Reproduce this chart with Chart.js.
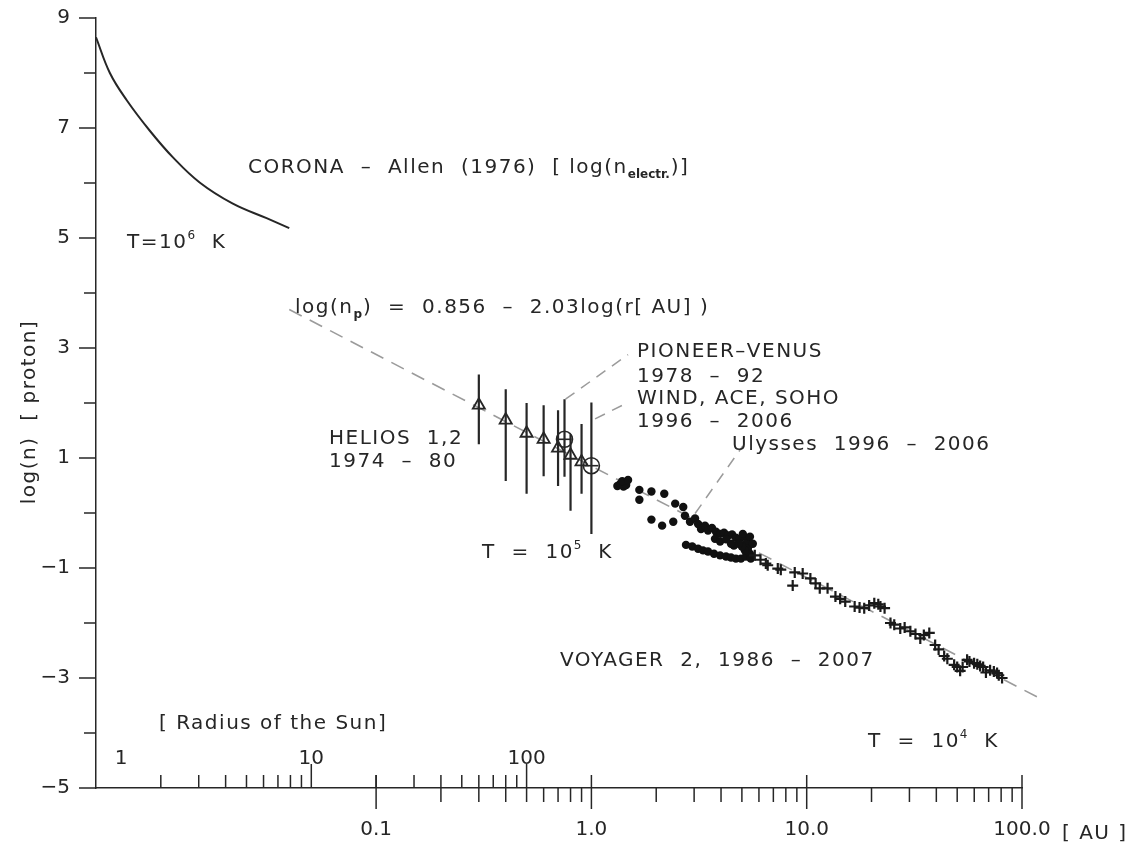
<!DOCTYPE html>
<html lang="en">
<head>
<meta charset="UTF-8">
<title>Solar wind proton density</title>
<script src="https://cdn.jsdelivr.net/npm/chart.js"></script>
<style>
  html, body { margin: 0; background: #fff; }
</style>
</head>
<body>
<canvas id="myChart" width="1144" height="852"></canvas>
<script>
// ---- data (x in AU, y = log n) ----
const coronaAU = [0.005, 0.0058, 0.00696, 0.00889, 0.01136, 0.01515, 0.0215, 0.031, 0.0395];
const coronaN  = [8.65, 8.00, 7.50, 6.95, 6.47, 6.01, 5.63, 5.36, 5.18];

const fitAU = [0.0395, 121];
const fitN  = [3.70, -3.37];

const helAU = [0.30, 0.40, 0.50, 0.60, 0.70, 0.80, 0.90];
const helN  = [1.96, 1.69, 1.45, 1.34, 1.18, 1.05, 0.93];
const helHi = [2.52, 2.25, 2.00, 1.96, 1.87, 1.43, 1.62];
const helLo = [1.25, 0.58, 0.35, 0.67, 0.49, 0.04, 0.35];

// Pioneer-Venus, then Wind/ACE/SOHO
const ringAU = [0.75, 1.0];
const ringN  = [1.34, 0.86];
const ringHi = [2.07, 2.01];
const ringLo = [0.66, -0.38];

const ulAU = [1.32,1.36,1.41,1.45,1.39,1.48,
  1.67,1.67,1.90,2.18,2.45,2.67,1.90,2.13,2.40,2.72,2.87,3.03,
  3.13,3.23,3.37,3.48,3.63,3.79,3.96,4.13,4.31,4.50,4.69,4.89,5.11,5.33,5.45,
  2.75,2.94,3.13,3.30,3.48,3.71,3.96,4.22,4.45,4.69,4.95,5.22,
  5.05,5.22,5.33,5.45,5.16,5.00,5.45,5.62,5.50,4.84,4.59,
  3.75,3.96,4.22,4.45];
const ulN = [0.49,0.53,0.48,0.51,0.58,0.60,
  0.42,0.24,0.39,0.35,0.17,0.11,-0.12,-0.23,-0.16,-0.05,-0.16,-0.10,
  -0.20,-0.29,-0.23,-0.32,-0.27,-0.34,-0.38,-0.36,-0.41,-0.39,-0.45,-0.47,-0.43,-0.48,-0.56,
  -0.58,-0.61,-0.65,-0.68,-0.70,-0.74,-0.77,-0.79,-0.81,-0.83,-0.83,-0.79,
  -0.38,-0.56,-0.65,-0.74,-0.68,-0.61,-0.43,-0.56,-0.83,-0.56,-0.59,
  -0.47,-0.52,-0.48,-0.56];

const voyAU = [5.74,6.10,6.46,6.59,7.34,7.58,8.61,8.80,9.58,10.4,
  11.0,11.5,12.5,13.6,14.3,15.1,16.7,17.6,18.5,19.5,
  20.6,21.5,22.0,23.0,24.5,25.5,27.2,28.5,30.3,32.0,
  33.7,35.0,37.1,39.5,41.0,43.5,45.0,48.4,50.0,51.6,
  53.0,55.6,57.0,59.9,62.0,63.9,66.0,68.0,71.1,74.0,
  76.6,78.0,80.8];
const voyN = [-0.77,-0.85,-0.92,-0.95,-1.01,-1.03,-1.32,-1.08,-1.10,-1.19,
  -1.28,-1.37,-1.37,-1.52,-1.56,-1.61,-1.70,-1.72,-1.73,-1.68,
  -1.64,-1.66,-1.70,-1.73,-2.00,-2.03,-2.10,-2.08,-2.15,-2.20,
  -2.28,-2.22,-2.18,-2.40,-2.48,-2.60,-2.65,-2.76,-2.80,-2.87,
  -2.80,-2.67,-2.70,-2.73,-2.75,-2.78,-2.80,-2.90,-2.86,-2.88,
  -2.91,-2.95,-3.00];

// leader lines: [from, to] pairs (AU, log n)
const leadAU = [[0.758, 1.48], [1.04, 1.48], [3.03, 5.05]];
const leadN  = [[2.07, 2.88], [1.71, 2.01], [-0.01, 1.22]];

// ticks
const auMajor = [0.1, 1, 10, 100];
const auMinor = [0.2,0.3,0.4,0.5,0.6,0.7,0.8,0.9, 2,3,4,5,6,7,8,9, 20,30,40,50,60,70,80,90];
const rsMajor = [10, 100];
const rsMinor = [2,3,4,5,6,7,8,9, 20,30,40,50,60,70,80,90];
const rsLabels = ['1', '10', '100'];
const yMajor = [-5, -3, -1, 1, 3, 5, 7, 9];
const yMinor = [-4, -2, 0, 2, 4, 6, 8];

// ---- helpers ----
const ink = '#262626';
const grey = '#9b9b9b';
const FONT = '"DejaVu Sans", sans-serif';

const pts = (xs, ys) => xs.map((x, i) => ({ x, y: ys[i] }));
function bars(xs, hi, lo) {
  const out = [];
  xs.forEach((x, i) => out.push({ x, y: hi[i] }, { x, y: lo[i] }, { x, y: null }));
  return out;
}
function pairs(xs, ys) {
  const out = [];
  xs.forEach((p, i) => out.push({ x: p[0], y: ys[i][0] }, { x: p[1], y: ys[i][1] }, { x: p[1], y: null }));
  return out;
}

// text: [string] or [string, 'sup'|'sub']
const notes = [
  { x: 248, y: 173, parts: [['CORONA  –  Allen  (1976)  [ log(n'], ['electr.', 'sub'], [')]']] },
  { x: 127, y: 248, parts: [['T=10'], ['6', 'sup'], ['  K']] },
  { x: 295, y: 313, parts: [['log(n'], ['p', 'sub'], [')  =  0.856  –  2.03log(r[ AU] )']] },
  { x: 637, y: 357, parts: [['PIONEER–VENUS']] },
  { x: 637, y: 382, parts: [['1978  –  92']] },
  { x: 637, y: 404, parts: [['WIND, ACE, SOHO']] },
  { x: 637, y: 427, parts: [['1996  –  2006']] },
  { x: 732, y: 450, parts: [['Ulysses  1996  –  2006']] },
  { x: 329, y: 444, parts: [['HELIOS  1,2']] },
  { x: 329, y: 467, parts: [['1974  –  80']] },
  { x: 482, y: 558, parts: [['T  =  10'], ['5', 'sup'], ['  K']] },
  { x: 560, y: 666, parts: [['VOYAGER  2,  1986  –  2007']] },
  { x: 868, y: 747, parts: [['T  =  10'], ['4', 'sup'], ['  K']] },
  { x: 159, y: 729, parts: [['[ Radius of the Sun]']] },
  { x: 1062, y: 839, parts: [['[ AU ]']] }
];

function rich(ctx, parts, x, y, size) {
  let cx = x;
  parts.forEach(([t, kind]) => {
    const s = kind ? Math.round(size * 0.6) : size;
    ctx.font = (kind === 'sub' ? 'bold ' : '') + s + 'px ' + FONT;
    ctx.letterSpacing = kind ? '0px' : '1.5px';
    const dy = kind === 'sup' ? -size * 0.45 : kind === 'sub' ? size * 0.25 : 0;
    ctx.fillText(t, cx, y + dy);
    cx += ctx.measureText(t).width + (kind ? 1 : 0);
  });
  ctx.letterSpacing = '0px';
}

const decor = {
  id: 'decor',
  afterDraw(chart) {
    const { ctx, chartArea: a, scales } = chart;
    const x = scales.x, xr = scales.xr, y = scales.y;
    const b = a.bottom;
    ctx.save();
    ctx.strokeStyle = ink;
    ctx.lineWidth = 1.5;
    const seg = (x1, y1, x2, y2) => { ctx.beginPath(); ctx.moveTo(x1, y1); ctx.lineTo(x2, y2); ctx.stroke(); };
    auMajor.forEach(v => { const p = x.getPixelForValue(v); seg(p, b - 13, p, b + 21); });
    auMinor.forEach(v => { const p = x.getPixelForValue(v); seg(p, b, p, b + 14); });
    rsMajor.forEach(v => { const p = xr.getPixelForValue(v); seg(p, b - 24, p, b); });
    rsMinor.forEach(v => { const p = xr.getPixelForValue(v); seg(p, b - 13, p, b); });
    yMajor.forEach(v => { const p = y.getPixelForValue(v); seg(a.left - 17, p, a.left, p); });
    yMinor.forEach(v => { const p = y.getPixelForValue(v); seg(a.left - 12, p, a.left, p); });

    ctx.fillStyle = ink;
    ctx.textBaseline = 'alphabetic';
    ctx.textAlign = 'center';
    ctx.font = '20px ' + FONT;
    rsLabels.forEach(t => {
      const p = Math.max(xr.getPixelForValue(+t), a.left + 25);
      ctx.fillText(t, p, b - 24);
    });

    // y axis title, rotated
    ctx.save();
    ctx.translate(35, 412);
    ctx.rotate(-Math.PI / 2);
    ctx.letterSpacing = '1.5px';
    ctx.fillText('log(n)  [ proton]', 0, 0);
    ctx.restore();

    ctx.textAlign = 'left';
    notes.forEach(n => rich(ctx, n.parts, n.x, n.y, 20));
    ctx.restore();
  }
};

new Chart(document.getElementById('myChart'), {
  type: 'scatter',
  data: {
    datasets: [
      { data: pts(voyAU, voyN), pointStyle: 'cross', pointRadius: 5.5, borderColor: '#1a1a1a', borderWidth: 2.2 },
      { data: pts(ulAU, ulN), pointStyle: 'circle', pointRadius: 4.2, borderWidth: 0, backgroundColor: '#111' },
      { data: pts(helAU, helN), pointStyle: 'triangle', pointRadius: 7, borderColor: ink, borderWidth: 1.8, backgroundColor: 'rgba(0,0,0,0)' },
      { data: pts(ringAU, ringN), pointStyle: 'circle', pointRadius: 8, borderColor: ink, borderWidth: 1.6, backgroundColor: 'rgba(0,0,0,0)' },
      { data: pts(ringAU, ringN), pointStyle: 'line', pointRadius: 7, borderColor: ink, borderWidth: 1.6 },
      { data: bars(helAU, helHi, helLo), showLine: true, pointRadius: 0, borderColor: ink, borderWidth: 2.2, spanGaps: false },
      { data: bars(ringAU, ringHi, ringLo), showLine: true, pointRadius: 0, borderColor: ink, borderWidth: 2.2, spanGaps: false },
      { data: pairs(leadAU, leadN), showLine: true, pointRadius: 0, borderColor: grey, borderWidth: 1.5, borderDash: [11, 8], spanGaps: false },
      { data: pts(fitAU, fitN), showLine: true, pointRadius: 0, borderColor: grey, borderWidth: 1.6, borderDash: [14, 9], clip: false },
      { data: pts(coronaAU, coronaN), showLine: true, pointRadius: 0, borderColor: ink, borderWidth: 2, tension: 0.4 }
    ]
  },
  options: {
    responsive: false,
    animation: false,
    devicePixelRatio: 1,
    layout: { padding: { top: 18, right: 122, bottom: 0, left: 0 } },
    plugins: { legend: { display: false }, tooltip: { enabled: false } },
    scales: {
      x: {
        type: 'logarithmic', min: 0.005, max: 100, position: 'bottom',
        afterBuildTicks: s => { s.ticks = auMajor.map(v => ({ value: v })); },
        afterFit: s => { s.height = 64; },
        grid: { display: false, drawTicks: false },
        border: { display: true, color: ink, width: 1.5 },
        ticks: {
          autoSkip: false, maxRotation: 0, padding: 30, color: ink,
          font: { family: FONT, size: 20 },
          callback: v => v.toFixed(1)
        }
      },
      xr: { type: 'logarithmic', axis: 'x', min: 1, max: 20000, display: false },
      y: {
        min: -5, max: 9,
        afterBuildTicks: s => { s.ticks = yMajor.map(v => ({ value: v })); },
        afterFit: s => { s.width = 96; s.paddingTop = 0; s.paddingBottom = 0; },
        grid: { display: false, drawTicks: false },
        border: { display: true, color: ink, width: 1.5 },
        ticks: { padding: 26, color: ink, font: { family: FONT, size: 20 }, callback: v => String(v).replace('-', '\u2212') }
      }
    }
  },
  plugins: [decor]
});
</script>
</body>
</html>
